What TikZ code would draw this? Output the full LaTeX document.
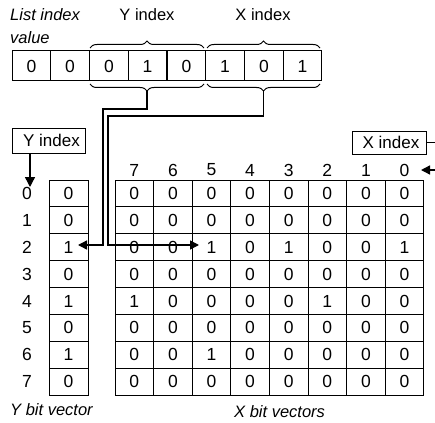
\documentclass[tikz,border=0pt]{standalone}
\usepackage{fontspec}
\setmainfont{Liberation Sans}
\usetikzlibrary{arrows.meta,decorations.pathreplacing}
\begin{document}
\begin{tikzpicture}[
  cell/.style={draw, line width=1pt, minimum width=38.6pt, minimum height=26.9pt, inner sep=0pt, font=\fontsize{17.5}{17.5}\selectfont},
  lcell/.style={cell, minimum width=38.75pt, minimum height=30pt},
  digit/.style={inner sep=0pt, font=\fontsize{17.5}{17.5}\selectfont},
  lbl/.style={inner sep=0pt, font=\fontsize{16.5}{16.5}\selectfont},
  ilbl/.style={inner sep=0pt, font=\fontsize{16.5}{16.5}\selectfont\itshape},
  idxbox/.style={draw, line width=1pt, inner sep=0pt, font=\fontsize{17}{17}\selectfont},
  brace/.style={decorate, decoration={brace, amplitude=7pt}, line width=1pt},
  conn/.style={line width=1.4pt},
  harrow/.style={conn, -{Triangle[width=9pt,length=9pt]}},
  varrow/.style={conn, -{Triangle[width=10pt,length=10pt]}}]
\fill[white] (0pt,0pt) rectangle (435pt,-422pt);
\useasboundingbox (0pt,0pt) rectangle (435pt,-422pt);

% list index value row
\node[lcell] (l0) at (31.4pt,-66pt) {0};
\node[lcell] (l1) at (70.1pt,-66pt) {0};
\node[lcell] (l2) at (108.9pt,-66pt) {0};
\node[lcell] (l3) at (147.6pt,-66pt) {1};
\node[lcell] (l4) at (186.4pt,-66pt) {0};
\node[lcell] (l5) at (225.1pt,-66pt) {1};
\node[lcell] (l6) at (263.9pt,-66pt) {0};
\node[lcell] (l7) at (302.6pt,-66pt) {1};

% labels at top
\node[ilbl, anchor=base west] (tl1) at (10pt,-21pt) {List index};
\node[ilbl, anchor=base west] (tl2) at (10pt,-44pt) {value};
\node[lbl, anchor=base] (tyi) at (147pt,-21pt) {Y index};
\node[lbl, anchor=base] (txi) at (263pt,-21pt) {X index};

% braces
\draw[brace] (90pt,-48pt) -- (204pt,-48pt);
\draw[brace] (207pt,-48pt) -- (320pt,-48pt);
\draw[brace] (204pt,-84pt) -- (90pt,-84pt);
\draw[brace] (320pt,-84pt) -- (207pt,-84pt);
\coordinate (ytip) at (147pt,-91pt);
\coordinate (xtip) at (263.5pt,-91pt);

% Y bit vector and row labels
\foreach \vv [count=\ri from 0] in {0,0,1,0,1,0,1,0} {
  \node[cell, minimum width=39pt] (y\ri) at (68.5pt,{-193.45pt-26.9pt*\ri}) {\vv};
  \node[digit] (rl\ri) at (27pt,{-193.45pt-26.9pt*\ri}) {\ri};
}

% headers
\foreach \hh [count=\ci from 0] in {7,6,5,4,3,2,1,0}
  \node[digit] (h\ci) at ({134.3pt+38.6pt*\ci},-170pt) {\hh};

% X bit vectors
\newcommand{\bitrow}[9]{%
  \node[cell] (g#1-0) at (134.3pt,{-193.45pt-26.9pt*#1}) {#2};
  \node[cell] (g#1-1) at (172.9pt,{-193.45pt-26.9pt*#1}) {#3};
  \node[cell] (g#1-2) at (211.5pt,{-193.45pt-26.9pt*#1}) {#4};
  \node[cell] (g#1-3) at (250.1pt,{-193.45pt-26.9pt*#1}) {#5};
  \node[cell] (g#1-4) at (288.7pt,{-193.45pt-26.9pt*#1}) {#6};
  \node[cell] (g#1-5) at (327.3pt,{-193.45pt-26.9pt*#1}) {#7};
  \node[cell] (g#1-6) at (365.9pt,{-193.45pt-26.9pt*#1}) {#8};
  \node[cell] (g#1-7) at (404.5pt,{-193.45pt-26.9pt*#1}) {#9};
}
\bitrow{0}{0}{0}{0}{0}{0}{0}{0}{0}
\bitrow{1}{0}{0}{0}{0}{0}{0}{0}{0}
\bitrow{2}{0}{0}{1}{0}{1}{0}{0}{1}
\bitrow{3}{0}{0}{0}{0}{0}{0}{0}{0}
\bitrow{4}{1}{0}{0}{0}{0}{1}{0}{0}
\bitrow{5}{0}{0}{0}{0}{0}{0}{0}{0}
\bitrow{6}{0}{0}{1}{0}{0}{0}{0}{0}
\bitrow{7}{0}{0}{0}{0}{0}{0}{0}{0}

% index boxes
\node[idxbox, minimum width=73pt, minimum height=25pt] (yidx) at (48.5pt,-140.5pt) {\hspace{6pt}Y index};
\node[idxbox, minimum width=74pt, minimum height=23pt] (xidx) at (389pt,-142.5pt) {\hspace{4pt}X index};

% Y index arrow
\coordinate (yarrtop) at (30pt,-153pt);
\coordinate (yarrend) at (30pt,-187pt);
\draw[varrow] (yarrtop) -- (yarrend);

% X index arrow
\coordinate (xr1) at (438pt,-142.5pt);
\coordinate (xr2) at (438pt,-170pt);
\coordinate (xarrend) at (421pt,-170pt);
\draw[harrow] (xidx.east) -- (xr1) -- (xr2) -- (xarrend);

% brace connectors
\coordinate (ya1) at (147pt,-109pt);
\coordinate (ya2) at (103pt,-109pt);
\coordinate (ya3) at (103pt,-245pt);
\coordinate (yaend) at (78pt,-245pt);
\draw[harrow] (ytip) -- (ya1) -- (ya2) -- (ya3) -- (yaend);
\coordinate (xa1) at (263.5pt,-116pt);
\coordinate (xa2) at (108pt,-116pt);
\coordinate (xa3) at (108pt,-245pt);
\coordinate (xaend) at (199pt,-245pt);
\draw[harrow] (xtip) -- (xa1) -- (xa2) -- (xa3) -- (xaend);

% bottom labels
\node[ilbl, anchor=base west] (ybv) at (10pt,-415pt) {Y bit vector};
\node[ilbl, anchor=base west] (xbv) at (234pt,-417pt) {X bit vectors};
\end{tikzpicture}
\end{document}
